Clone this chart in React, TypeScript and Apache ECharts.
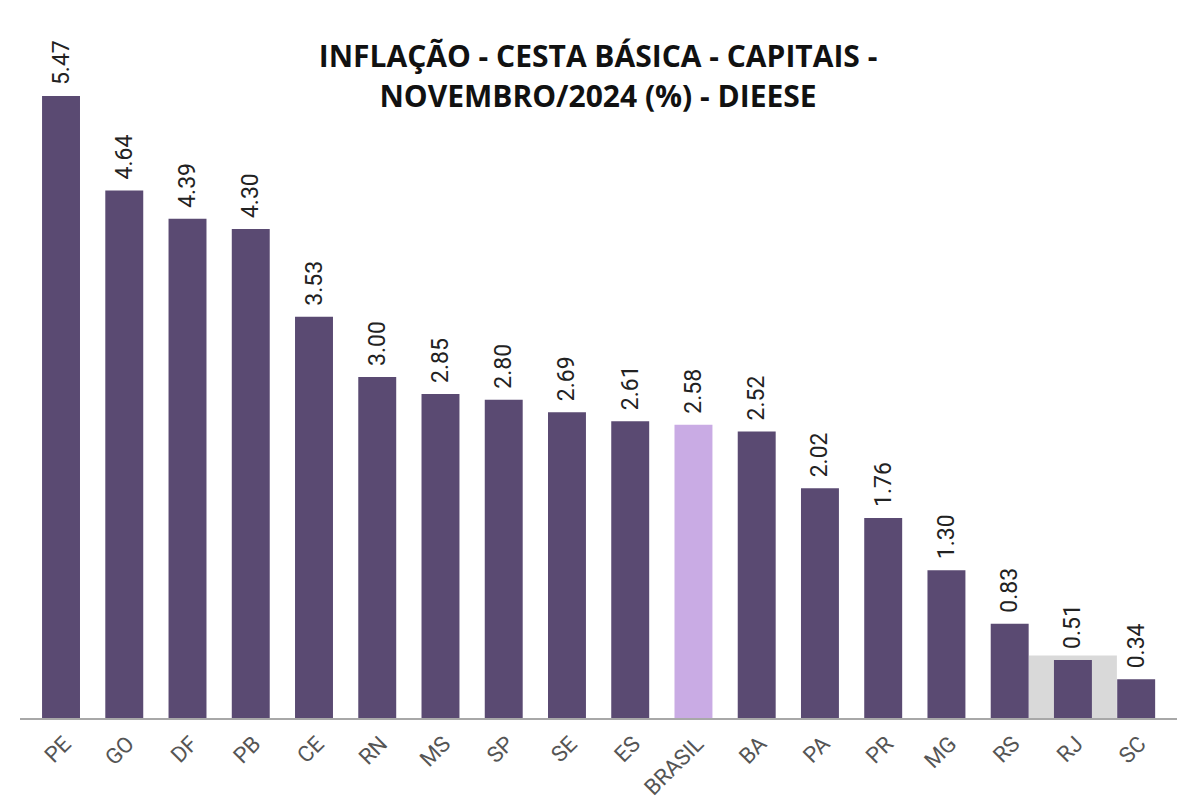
import React, { useEffect, useRef } from "react";
import * as echarts from "echarts";

const categories = ["PE", "GO", "DF", "PB", "CE", "RN", "MS", "SP", "SE", "ES", "BRASIL", "BA", "PA", "PR", "MG", "RS", "RJ", "SC"];
const values = [5.47, 4.64, 4.39, 4.3, 3.53, 3.0, 2.85, 2.8, 2.69, 2.61, 2.58, 2.52, 2.02, 1.76, 1.3, 0.83, 0.51, 0.34];
const highlightCategory = "RJ";
const highlightValue = 0.55;
const nationalCategory = "BRASIL";
const titleText = "INFLAÇÃO - CESTA BÁSICA - CAPITAIS -\nNOVEMBRO/2024 (%) - DIEESE";

export default function App() {
  const ref = useRef<HTMLDivElement>(null);
  useEffect(() => {
    document.body.style.margin = "0";
    const chart = echarts.init(ref.current!, null, { renderer: "svg" });
    const barData = categories.map((c, i) => ({
      value: values[i],
      itemStyle: { color: c === nationalCategory ? "#c9abe4" : "#5a4a72" },
    }));
    const hlIndex = categories.indexOf(highlightCategory);
    chart.setOption({
      animation: false,
      backgroundColor: "#ffffff",
      title: {
        text: titleText,
        left: 593,
        textAlign: "center",
        top: 30,
        textStyle: {
          fontFamily: "Open Sans",
          fontWeight: "bold",
          fontSize: 30,
          lineHeight: 40,
          color: "#111111",
        },
      },
      grid: { left: 29.4, right: 19.2, top: 35.8, bottom: 88 },
      xAxis: {
        type: "category",
        data: categories,
        axisLine: { show: false },
        axisTick: { show: false },
        axisLabel: { show: false },
      },
      yAxis: { type: "value", min: 0, max: 6, show: false },
      series: [
        {
          type: "custom",
          data: [[hlIndex, highlightValue]],
          z: 1,
          silent: true,
          renderItem: (params: any, api: any) => {
            const top = api.coord([api.value(0), api.value(1)]);
            const bottom = api.coord([api.value(0), 0]);
            const w = api.size([1, 0])[0] * 1.39;
            return {
              type: "rect",
              shape: { x: top[0] - w / 2, y: top[1], width: w, height: bottom[1] - top[1] },
              style: { fill: "#d9d9d9" },
            };
          },
        },
        {
          type: "bar",
          data: barData,
          barWidth: "60%",
          z: 3,
          label: {
            show: true,
            position: "top",
            rotate: 90,
            align: "left",
            verticalAlign: "middle",
            distance: 11,
            fontFamily: "Roboto",
            fontSize: 23,
            color: "#222222",
            formatter: (p: any) => Number(p.value).toFixed(2),
          },
        },
        {
          type: "custom",
          data: categories.map((c, i) => [i, 0]),
          z: 5,
          silent: true,
          renderItem: (params: any, api: any) => {
            const p = api.coord([api.value(0), 0]);
            return {
              type: "group",
              x: p[0] + 6,
              y: p[1] + 22,
              rotation: 0.7854,
              children: [
                {
                  type: "text",
                  style: {
                    text: categories[params.dataIndex],
                    x: 0,
                    y: 0,
                    align: "right",
                    verticalAlign: "middle",
                    fontFamily: "Roboto",
                    fontSize: 22,
                    fill: "#555555",
                  },
                },
              ],
            };
          },
        },
      ],
      graphic: [
        {
          type: "line",
          shape: { x1: 20, y1: 719, x2: 1177, y2: 719 },
          style: { stroke: "#a8a8a8", lineWidth: 2 },
          z: 10,
        },
      ],
    });
    return () => chart.dispose();
  }, []);
  return <div ref={ref} style={{ width: 1187, height: 806 }} />;
}
